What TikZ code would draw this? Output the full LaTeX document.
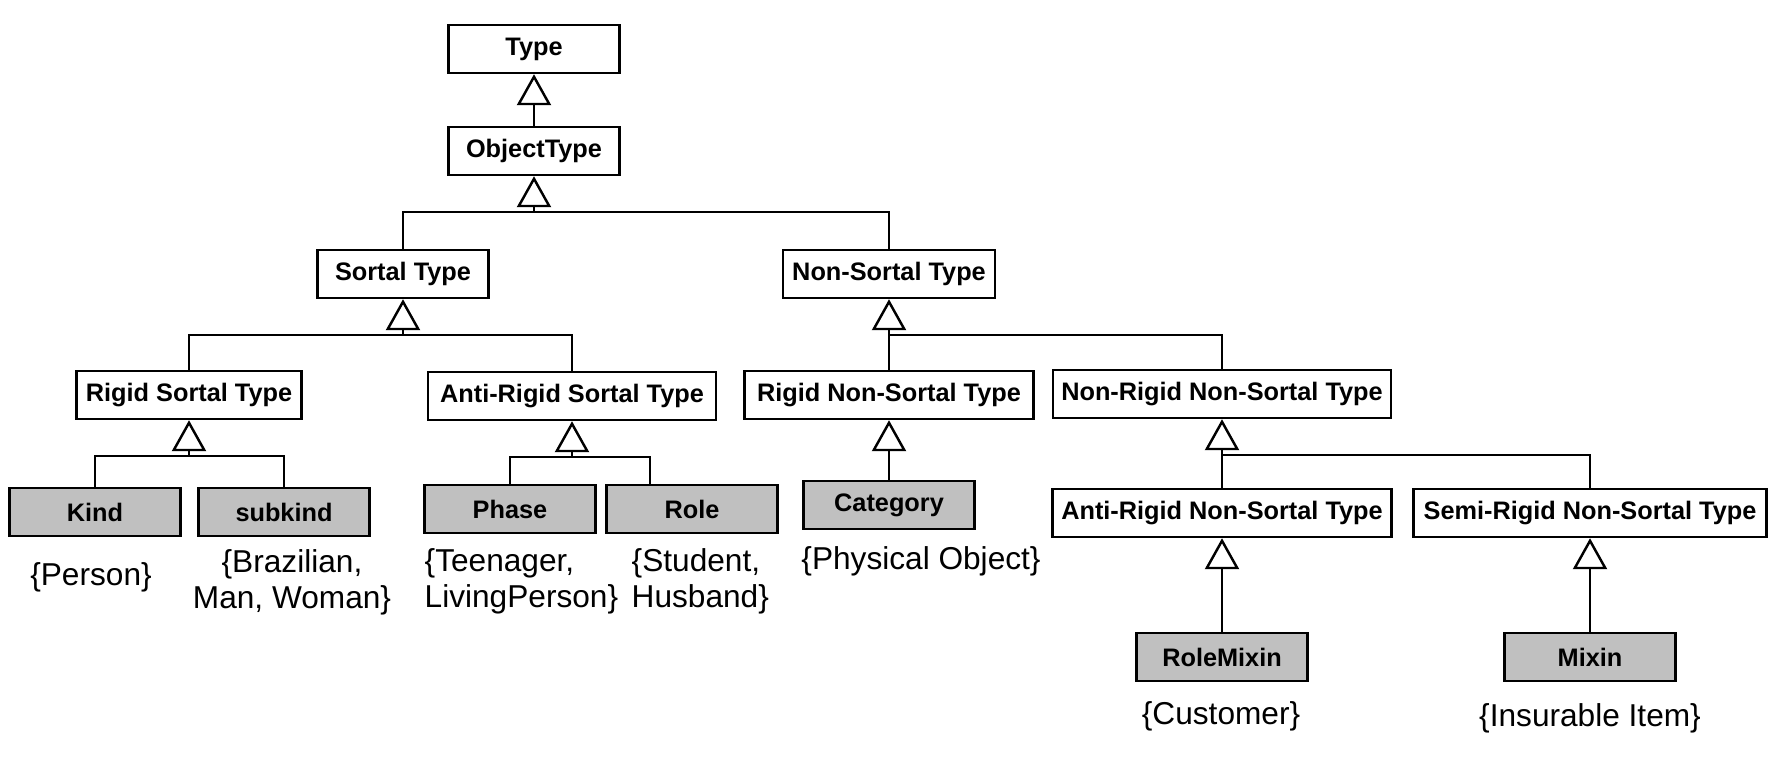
\documentclass[tikz,border=0pt]{standalone}
\usepackage{fontspec}
\setmainfont{Liberation Sans}
\usepackage{tikz}
\usetikzlibrary{arrows.meta,calc}
\definecolor{leafgray}{RGB}{192, 192, 192}

\tikzset{
    typebox/.style={draw, line width=0.7pt, minimum height=0.48cm, minimum width=1.71cm,
        inner sep=0pt, font=\fontsize{7.2}{8}\selectfont\bfseries},
    leafbox/.style={typebox, fill=leafgray},
    note/.style={inner sep=0pt, font=\fontsize{9}{10.3}\selectfont},
    link/.style={line width=0.6pt},
    gen/.style={link, -{Triangle[open, length=0.31cm, width=0.34cm, line width=0.7pt]}}
}

\begin{document}
\begin{tikzpicture}
        \useasboundingbox (0,0) rectangle (17.76,-7.66);

        % abstract types
        \node[typebox] (type) at (5.34,-0.49) {Type};
        \node[typebox] (objtype) at (5.34,-1.51) {ObjectType};
        \node[typebox] (sortal) at (4.03,-2.74) {Sortal Type};
        \node[typebox, minimum width=2.12cm] (nonsortal) at (8.89,-2.74) {Non-Sortal Type};
        \node[typebox, minimum width=2.25cm] (rigidsortal) at (1.89,-3.95) {Rigid Sortal Type};
        \node[typebox, minimum width=2.88cm] (antirigidsortal) at (5.72,-3.96) {Anti-Rigid Sortal Type};
        \node[typebox, minimum width=2.89cm] (rigidns) at (8.89,-3.95) {Rigid Non-Sortal Type};
        \node[typebox, minimum width=3.38cm] (nonrigidns) at (12.22,-3.94) {Non-Rigid Non-Sortal Type};
        \node[typebox, minimum width=3.39cm] (antirigidns) at (12.22,-5.13) {Anti-Rigid Non-Sortal Type};
        \node[typebox, minimum width=3.53cm] (semirigidns) at (15.90,-5.13) {Semi-Rigid Non-Sortal Type};

        % stereotypes
        \node[leafbox] (kind) at (0.95,-5.12) {Kind};
        \node[leafbox] (subkind) at (2.84,-5.12) {subkind};
        \node[leafbox] (phase) at (5.10,-5.09) {Phase};
        \node[leafbox] (role) at (6.92,-5.09) {Role};
        \node[leafbox] (category) at (8.89,-5.05) {Category};
        \node[leafbox] (rolemixin) at (12.22,-6.57) {RoleMixin};
        \node[leafbox] (mixin) at (15.90,-6.57) {Mixin};

        % examples
        \node[note] (person) at (0.91,-5.77) {\{Person\}};
        \node[note, align=center] (brazilian) at (2.92,-5.82) {\{Brazilian,\\Man, Woman\}};
        \node[note, align=left, anchor=west] (teenager) at (4.24,-5.81) {\{Teenager,\\LivingPerson\}};
        \node[note, align=left, anchor=west] (student) at (6.31,-5.81) {\{Student,\\Husband\}};
        \node[note] (physobj) at (9.21,-5.61) {\{Physical Object\}};
        \node[note] (customer) at (12.21,-7.16) {\{Customer\}};
        \node[note] (insurable) at (15.90,-7.18) {\{Insurable Item\}};

        % generalizations
        \coordinate (role-top) at ($(role.north)+(-0.42,0)$);
        \foreach \p/\a/\b in {objtype/sortal.north/nonsortal.north,
                sortal/rigidsortal.north/antirigidsortal.north,
                nonsortal/rigidns.north/nonrigidns.north,
                rigidsortal/kind.north/subkind.north,
                antirigidsortal/phase.north/role-top,
                nonrigidns/antirigidns.north/semirigidns.north} {
            \coordinate (\p-j) at ($(\p.south)+(0,-0.36)$);
            \draw[link] (\a) |- (\p-j) -| (\b);
            \draw[gen] (\p-j) -- (\p.south);
        }
        \foreach \p/\c in {type/objtype, rigidns/category, antirigidns/rolemixin, semirigidns/mixin}
            \draw[gen] (\c.north) -- (\p.south);
\end{tikzpicture}
\end{document}
